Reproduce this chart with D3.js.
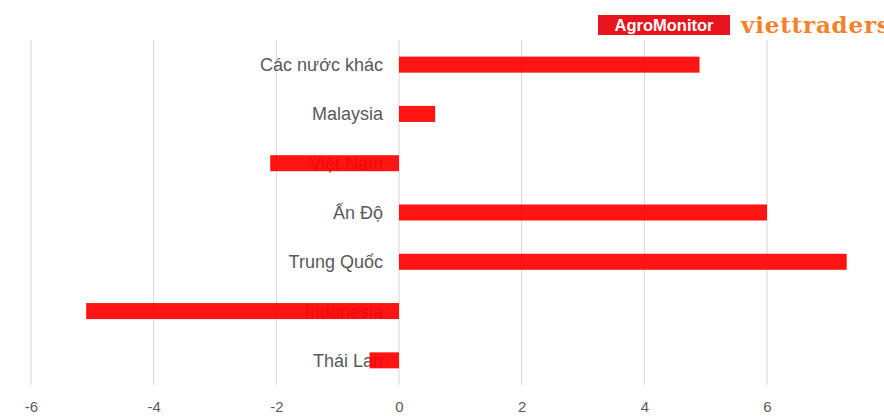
<!DOCTYPE html>
<html>
<head>
<meta charset="utf-8">
<script src="https://cdn.jsdelivr.net/npm/d3@7"></script>
<style>
  html, body { margin: 0; padding: 0; background: #fff; }
  svg { display: block; }
</style>
</head>
<body>
<svg id="chart" width="884" height="416"></svg>
<script>
const categories = ["Các nước khác", "Malaysia", "Việt Nam", "Ấn Độ", "Trung Quốc", "Indonesia", "Thái Lan"];
const values = [4.9, 0.59, -2.1, 6.0, 7.3, -5.1, -0.48];
const tickValues = [-6, -4, -2, 0, 2, 4, 6];

const svg = d3.select("#chart");

const x = d3.scaleLinear().domain([-6, 6]).range([31, 767]);
const y = d3.scaleBand().domain(categories).range([40, 385]).paddingInner(0.675).paddingOuter(0.3375);

// gridlines
svg.append("g").selectAll("line").data(tickValues).join("line")
  .attr("x1", d => x(d)).attr("x2", d => x(d))
  .attr("y1", 40).attr("y2", 385)
  .attr("stroke", "#d4d4d4").attr("stroke-width", 1);

// axis tick labels
const axis = d3.axisBottom(x).tickValues(tickValues).tickSize(0).tickPadding(0).tickFormat(d3.format("d"));
const ag = svg.append("g").attr("transform", "translate(0,401)").call(axis);
ag.select(".domain").remove();
ag.selectAll("text")
  .attr("fill", "#5a5a5a").attr("font-family", "Liberation Sans, Arial, sans-serif")
  .attr("font-size", 15).attr("dy", "0.71em")
  .text(d => d < 0 ? "-" + Math.abs(d) : d);

// category labels (drawn under bars)
svg.append("g").selectAll("text").data(categories).join("text")
  .attr("x", x(0) - 16)
  .attr("y", d => y(d) + y.bandwidth() / 2)
  .attr("dy", "0.36em")
  .attr("text-anchor", "end")
  .attr("font-family", "Liberation Sans, Arial, sans-serif")
  .attr("font-size", 18)
  .attr("fill", "#595959")
  .text(d => d);

// bars
svg.append("g").selectAll("rect").data(values).join("rect")
  .attr("x", d => x(Math.min(0, d)))
  .attr("width", d => Math.abs(x(d) - x(0)))
  .attr("y", (d, i) => y(categories[i]))
  .attr("height", y.bandwidth())
  .attr("fill", "#ff0000")
  .attr("fill-opacity", 0.92);

// logo
const logo = svg.append("g");
logo.append("rect").attr("x", 598).attr("y", 15).attr("width", 132).attr("height", 20).attr("fill", "#e8141b");
logo.append("text").attr("x", 664).attr("y", 31).attr("text-anchor", "middle")
  .attr("font-family", "Liberation Sans, Arial, sans-serif").attr("font-weight", "bold")
  .attr("font-size", 16.5).attr("fill", "#fff").text("AgroMonitor");
logo.append("text").attr("x", 741).attr("y", 33)
  .attr("font-family", "DejaVu Serif, serif").attr("font-weight", "bold")
  .attr("font-size", 23).attr("letter-spacing", 0.8).attr("fill", "#f5822a").text("viettraders");
</script>
</body>
</html>
